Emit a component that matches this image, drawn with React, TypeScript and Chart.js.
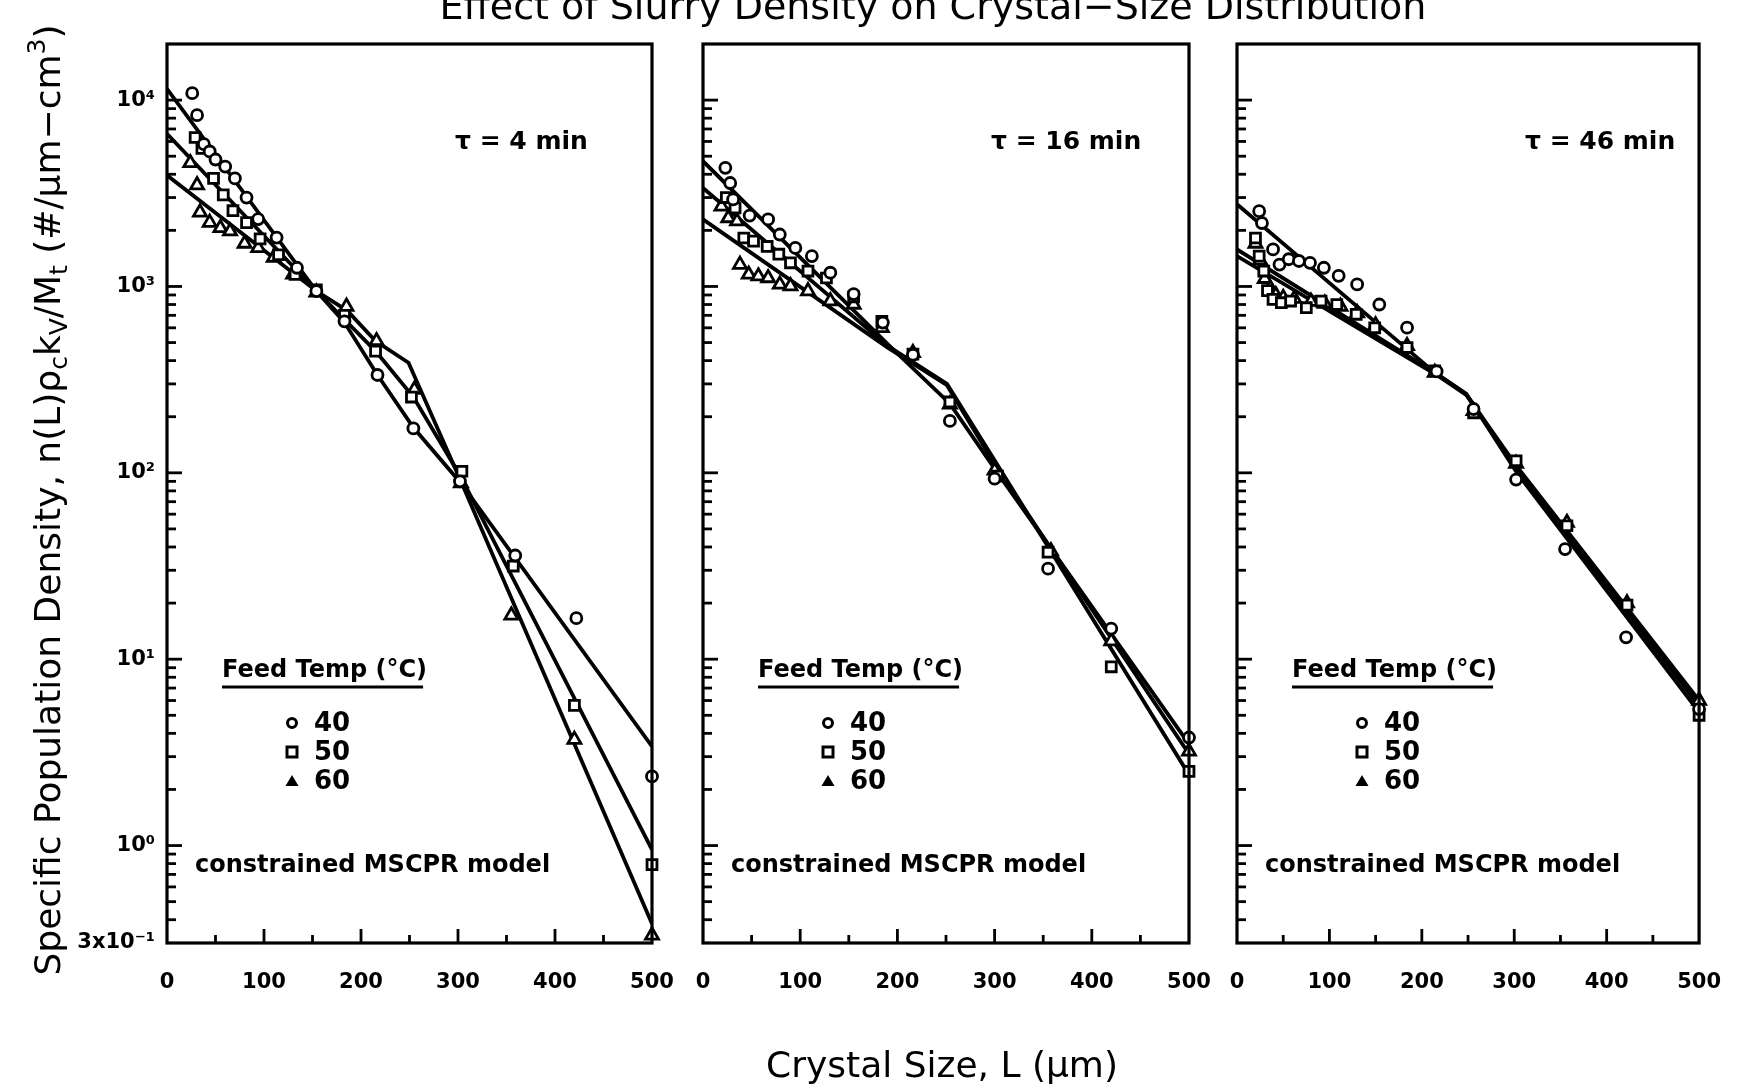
import React, { useEffect, useRef } from 'react';
import { Chart, registerables } from 'chart.js';

Chart.register(...registerables);

// ---------- text ----------
const figureTitle = 'Effect of Slurry Density on Crystal−Size Distribution';
const xAxisTitle = 'Crystal Size, L (μm)';
const yAxisTitleParts = [
  { t: 'Specific Population Density, n(L)ρ' },
  { t: 'c', sub: true },
  { t: 'k' },
  { t: 'V', sub: true },
  { t: '/M' },
  { t: 't', sub: true },
  { t: ' (#/μm−cm' },
  { t: '3', sup: true },
  { t: ')' },
];
const panelTitles = ['τ = 4 min', 'τ = 16 min', 'τ = 46 min'];
const legendTitle = 'Feed Temp (°C)';
const feedTemps = ['40', '50', '60'];
const modelNote = 'constrained MSCPR model';

// ---------- ticks ----------
const xTickValues = [0, 50, 100, 150, 200, 250, 300, 350, 400, 450, 500];
const yTickValues = [
  0.3, 0.4, 0.5, 0.6, 0.7, 0.8, 0.9,
  1, 2, 3, 4, 5, 6, 7, 8, 9,
  10, 20, 30, 40, 50, 60, 70, 80, 90,
  100, 200, 300, 400, 500, 600, 700, 800, 900,
  1000, 2000, 3000, 4000, 5000, 6000, 7000, 8000, 9000,
  10000, 20000,
];
const yTickLabels: Record<string, string> = {
  '0.3': '3x10⁻¹',
  '1': '10⁰',
  '10': '10¹',
  '100': '10²',
  '1000': '10³',
  '10000': '10⁴',
};

// ---------- data: [L (µm), n(L)ρc kv/Mt] ----------
// tau = 4 min
const p1Data40 = [[26,10900],[31,8300],[38,5800],[44,5300],[50,4800],[60,4400],[70,3800],[82,3000],[94,2300],[113,1830],[134,1260],[154,945],[183,650],[217,335],[254,173],[302,90],[359,36],[422,16.6],[500,2.35]];
const p1Data50 = [[29,6300],[36,5500],[48,3800],[58,3100],[68,2550],[82,2200],[96,1800],[115,1480],[132,1160],[154,960],[183,700],[215,450],[252,255],[304,102],[357,31.6],[420,5.65],[500,0.79]];
const p1Data60 = [[24,4600],[31,3500],[34,2500],[44,2200],[55,2060],[65,1980],[80,1700],[94,1610],[110,1430],[130,1160],[154,930],[185,780],[216,510],[255,280],[303,88],[355,17.2],[420,3.7],[500,0.33]];
const p1Fit40 = [[0,11500],[154,945],[183,640],[217,335],[254,175],[303,88],[500,3.4]];
const p1Fit50 = [[0,6600],[154,945],[215,450],[254,255],[303,95],[500,0.95]];
const p1Fit60 = [[0,3950],[154,945],[186,740],[215,510],[249,390],[303,90],[500,0.38]];

// tau = 16 min
const p2Data40 = [[23,4330],[28,3590],[31,2930],[48,2400],[67,2290],[79,1900],[95,1610],[112,1455],[131,1185],[155,910],[185,640],[216,430],[254,190],[300,93],[355,30.6],[420,14.6],[500,3.8]];
const p2Data50 = [[24,3000],[33,2640],[42,1820],[52,1750],[66,1640],[78,1490],[90,1340],[108,1210],[127,1110],[155,880],[184,650],[216,433],[254,240],[303,96],[355,37.5],[420,9.1],[500,2.5]];
const p2Data60 = [[19,2690],[26,2330],[35,2240],[38,1310],[47,1160],[57,1135],[67,1110],[79,1025],[90,1005],[108,945],[131,835],[155,800],[184,600],[216,440],[254,233],[300,103],[358,38],[420,12.5],[500,3.2]];
const p2Fit40 = [[0,4700],[190,490],[254,235],[303,100],[500,3.5]];
const p2Fit50 = [[0,3380],[190,480],[251,300],[303,110],[500,2.4]];
const p2Fit60 = [[0,2290],[190,470],[251,295],[303,105],[500,3.1]];

// tau = 46 min
const p3Data40 = [[24,2535],[27,2190],[39,1580],[46,1310],[56,1400],[67,1370],[79,1340],[94,1260],[110,1140],[130,1026],[154,800],[184,601],[216,350],[256,220],[302,92],[355,39],[421,13.1],[500,5.4]];
const p3Data50 = [[20,1820],[24,1455],[29,1210],[33,950],[39,853],[48,818],[58,835],[75,769],[91,835],[108,800],[129,709],[149,600],[184,470],[214,352],[256,210],[302,116],[357,52],[422,19.5],[500,5.0]];
const p3Data60 = [[20,1700],[25,1380],[30,1100],[36,980],[42,900],[50,870],[62,860],[80,830],[95,810],[112,780],[130,720],[150,620],[184,480],[214,345],[256,215],[302,112],[357,54],[422,20],[500,6.0]];
const p3Fit40 = [[0,2760],[214,345],[248,265],[303,100],[500,5.2]];
const p3Fit50 = [[0,1580],[214,345],[248,265],[303,106],[500,5.6]];
const p3Fit60 = [[0,1455],[214,340],[248,262],[303,108],[500,6.0]];

const panelData = [
  [p1Data40, p1Data50, p1Data60],
  [p2Data40, p2Data50, p2Data60],
  [p3Data40, p3Data50, p3Data60],
];
const panelFits = [
  [p1Fit40, p1Fit50, p1Fit60],
  [p2Fit40, p2Fit50, p2Fit60],
  [p3Fit40, p3Fit50, p3Fit60],
];

// ---------- layout / style ----------
const W = 1748;
const H = 1088;
const FONT = '"DejaVu Sans", "Liberation Sans", sans-serif';
const panelLeft = [167, 703, 1237];
const panelRight = [652, 1189, 1722];
const plotTop = 44;
const plotBottom = 943;
const xAxisHeight = 60;
const yAxisWidth = [110, 0, 0];
const markerStyles = ['circle', 'rect', 'triangle'];
const markerRadius = [5.5, 7, 7.5];

function drawLegendMarker(ctx: CanvasRenderingContext2D, kind: number, x: number, y: number) {
  ctx.save();
  ctx.lineWidth = 3;
  ctx.strokeStyle = '#000';
  ctx.fillStyle = '#000';
  ctx.beginPath();
  if (kind === 0) {
    ctx.arc(x, y, 4.5, 0, Math.PI * 2);
    ctx.stroke();
  } else if (kind === 1) {
    ctx.rect(x - 5, y - 5, 10, 10);
    ctx.stroke();
  } else {
    ctx.moveTo(x, y - 6);
    ctx.lineTo(x + 6.5, y + 5);
    ctx.lineTo(x - 6.5, y + 5);
    ctx.closePath();
    ctx.fill();
  }
  ctx.restore();
}

const decorPlugin = {
  id: 'panelDecor',
  afterDraw(chart: any, _args: any, opts: any) {
    const i: number = opts.index;
    const ctx: CanvasRenderingContext2D = chart.ctx;
    const a = chart.chartArea;
    const xs = chart.scales.x;
    const ys = chart.scales.y;
    ctx.save();
    ctx.strokeStyle = '#000';
    ctx.fillStyle = '#000';
    ctx.lineWidth = 2.8;
    // inward tick marks, x
    for (const t of xs.ticks) {
      const v = t.value;
      if (v <= xs.min || v >= xs.max) continue;
      const px = xs.getPixelForValue(v);
      const len = v % 100 === 0 ? 14 : 8;
      ctx.beginPath();
      ctx.moveTo(px, a.bottom);
      ctx.lineTo(px, a.bottom - len);
      ctx.stroke();
    }
    // inward tick marks, y
    for (const t of ys.ticks) {
      const v = t.value;
      if (v <= ys.min * 1.0001 || v >= ys.max * 0.9999) continue;
      const py = ys.getPixelForValue(v);
      const lg = Math.log10(v);
      const major = Math.abs(lg - Math.round(lg)) < 1e-6;
      const len = major ? 15 : 9;
      ctx.beginPath();
      ctx.moveTo(a.left, py);
      ctx.lineTo(a.left + len, py);
      ctx.stroke();
    }
    // frame
    ctx.lineWidth = 3.2;
    ctx.strokeRect(a.left, a.top, a.right - a.left, a.bottom - a.top);

    // panel annotations
    ctx.textBaseline = 'middle';
    ctx.textAlign = 'left';
    ctx.font = `bold 25px ${FONT}`;
    ctx.fillText(panelTitles[i], a.left + 288, 142);

    ctx.textBaseline = 'alphabetic';
    ctx.font = `bold 24px ${FONT}`;
    ctx.fillText(legendTitle, a.left + 55, 677);
    const lw = ctx.measureText(legendTitle).width;
    ctx.lineWidth = 3;
    ctx.beginPath();
    ctx.moveTo(a.left + 55, 687);
    ctx.lineTo(a.left + 55 + lw - 4, 687);
    ctx.stroke();

    const rowY = [723, 752, 781];
    ctx.font = `bold 26px ${FONT}`;
    ctx.textBaseline = 'middle';
    for (let s = 0; s < 3; s++) {
      drawLegendMarker(ctx, s, a.left + 125, rowY[s]);
      ctx.fillText(feedTemps[s], a.left + 147, rowY[s] + 1);
    }
    ctx.font = `bold 24px ${FONT}`;
    ctx.fillText(modelNote, a.left + 28, 866);

    // figure-level texts, drawn once
    if (i === 0) {
      ctx.textAlign = 'center';
      ctx.textBaseline = 'alphabetic';
      ctx.font = `38px ${FONT}`;
      ctx.fillText(figureTitle, 933, 19);
      ctx.font = `36px ${FONT}`;
      ctx.fillText(xAxisTitle, 942, 1077);

      // rotated y title with sub/superscripts
      const big = 36;
      const small = 25;
      ctx.save();
      ctx.translate(60, 500);
      ctx.rotate(-Math.PI / 2);
      ctx.textAlign = 'left';
      ctx.textBaseline = 'alphabetic';
      let total = 0;
      const widths = yAxisTitleParts.map((p: any) => {
        ctx.font = `${p.sub || p.sup ? small : big}px ${FONT}`;
        const w = ctx.measureText(p.t).width;
        total += w;
        return w;
      });
      let x = -total / 2;
      yAxisTitleParts.forEach((p: any, k) => {
        ctx.font = `${p.sub || p.sup ? small : big}px ${FONT}`;
        const dy = p.sub ? 7 : p.sup ? -15 : 0;
        ctx.fillText(p.t, x, dy);
        x += widths[k];
      });
      ctx.restore();
    }
    ctx.restore();
  },
};

function makeConfig(i: number): any {
  const datasets: any[] = [];
  for (let s = 0; s < 3; s++) {
    datasets.push({
      label: `${feedTemps[s]} data`,
      data: panelData[i][s].map(([x, y]) => ({ x, y })),
      showLine: false,
      pointStyle: markerStyles[s],
      pointRadius: markerRadius[s],
      pointBorderWidth: 2.8,
      pointBorderColor: '#000',
      pointBackgroundColor: '#fff',
      order: 0,
      clip: false,
    });
    datasets.push({
      label: `${feedTemps[s]} model`,
      data: panelFits[i][s].map(([x, y]) => ({ x, y })),
      showLine: true,
      borderColor: '#000',
      borderWidth: 3.8,
      pointRadius: 0,
      tension: 0,
      fill: false,
      order: 1,
    });
  }
  return {
    type: 'line',
    data: { datasets },
    options: {
      animation: false,
      responsive: false,
      maintainAspectRatio: false,
      devicePixelRatio: 1,
      events: [],
      layout: {
        padding: {
          left: panelLeft[i] - yAxisWidth[i],
          right: W - panelRight[i],
          top: plotTop,
          bottom: H - plotBottom - xAxisHeight,
        },
      },
      plugins: {
        legend: { display: false },
        tooltip: { enabled: false },
        panelDecor: { index: i },
      },
      scales: {
        x: {
          type: 'linear',
          min: 0,
          max: 500,
          grid: { display: false, drawTicks: false },
          border: { display: false },
          ticks: {
            autoSkip: false,
            maxRotation: 0,
            padding: 27,
            color: '#000',
            font: { family: FONT, size: 21, weight: 'bold' },
            callback: (v: number) => (v % 100 === 0 ? String(v) : ''),
          },
          afterBuildTicks: (sc: any) => {
            sc.ticks = xTickValues.map((v) => ({ value: v }));
          },
          afterFit: (sc: any) => {
            sc.height = xAxisHeight;
          },
        },
        y: {
          type: 'logarithmic',
          min: 0.3,
          max: 20000,
          grid: { display: false, drawTicks: false },
          border: { display: false },
          ticks: {
            display: i === 0,
            autoSkip: false,
            padding: 12,
            color: '#000',
            font: { family: FONT, size: 21, weight: 'bold' },
            callback: (v: number) => yTickLabels[String(v)] ?? '',
          },
          afterBuildTicks: (sc: any) => {
            sc.ticks = yTickValues.map((v) => ({ value: v }));
          },
          afterFit: (sc: any) => {
            sc.width = yAxisWidth[i];
          },
        },
      },
    },
    plugins: [decorPlugin],
  };
}

export default function App() {
  const r0 = useRef<HTMLCanvasElement>(null);
  const r1 = useRef<HTMLCanvasElement>(null);
  const r2 = useRef<HTMLCanvasElement>(null);
  useEffect(() => {
    const charts = [r0, r1, r2].map((r, i) => new Chart(r.current as HTMLCanvasElement, makeConfig(i)));
    return () => charts.forEach((c) => c.destroy());
  }, []);
  const cs: React.CSSProperties = { position: 'absolute', left: 0, top: 0, width: W, height: H };
  return (
    <div style={{ position: 'absolute', left: 0, top: 0, width: W, height: H, background: '#fff', overflow: 'hidden' }}>
      <canvas ref={r0} width={W} height={H} style={cs} />
      <canvas ref={r1} width={W} height={H} style={cs} />
      <canvas ref={r2} width={W} height={H} style={cs} />
    </div>
  );
}
